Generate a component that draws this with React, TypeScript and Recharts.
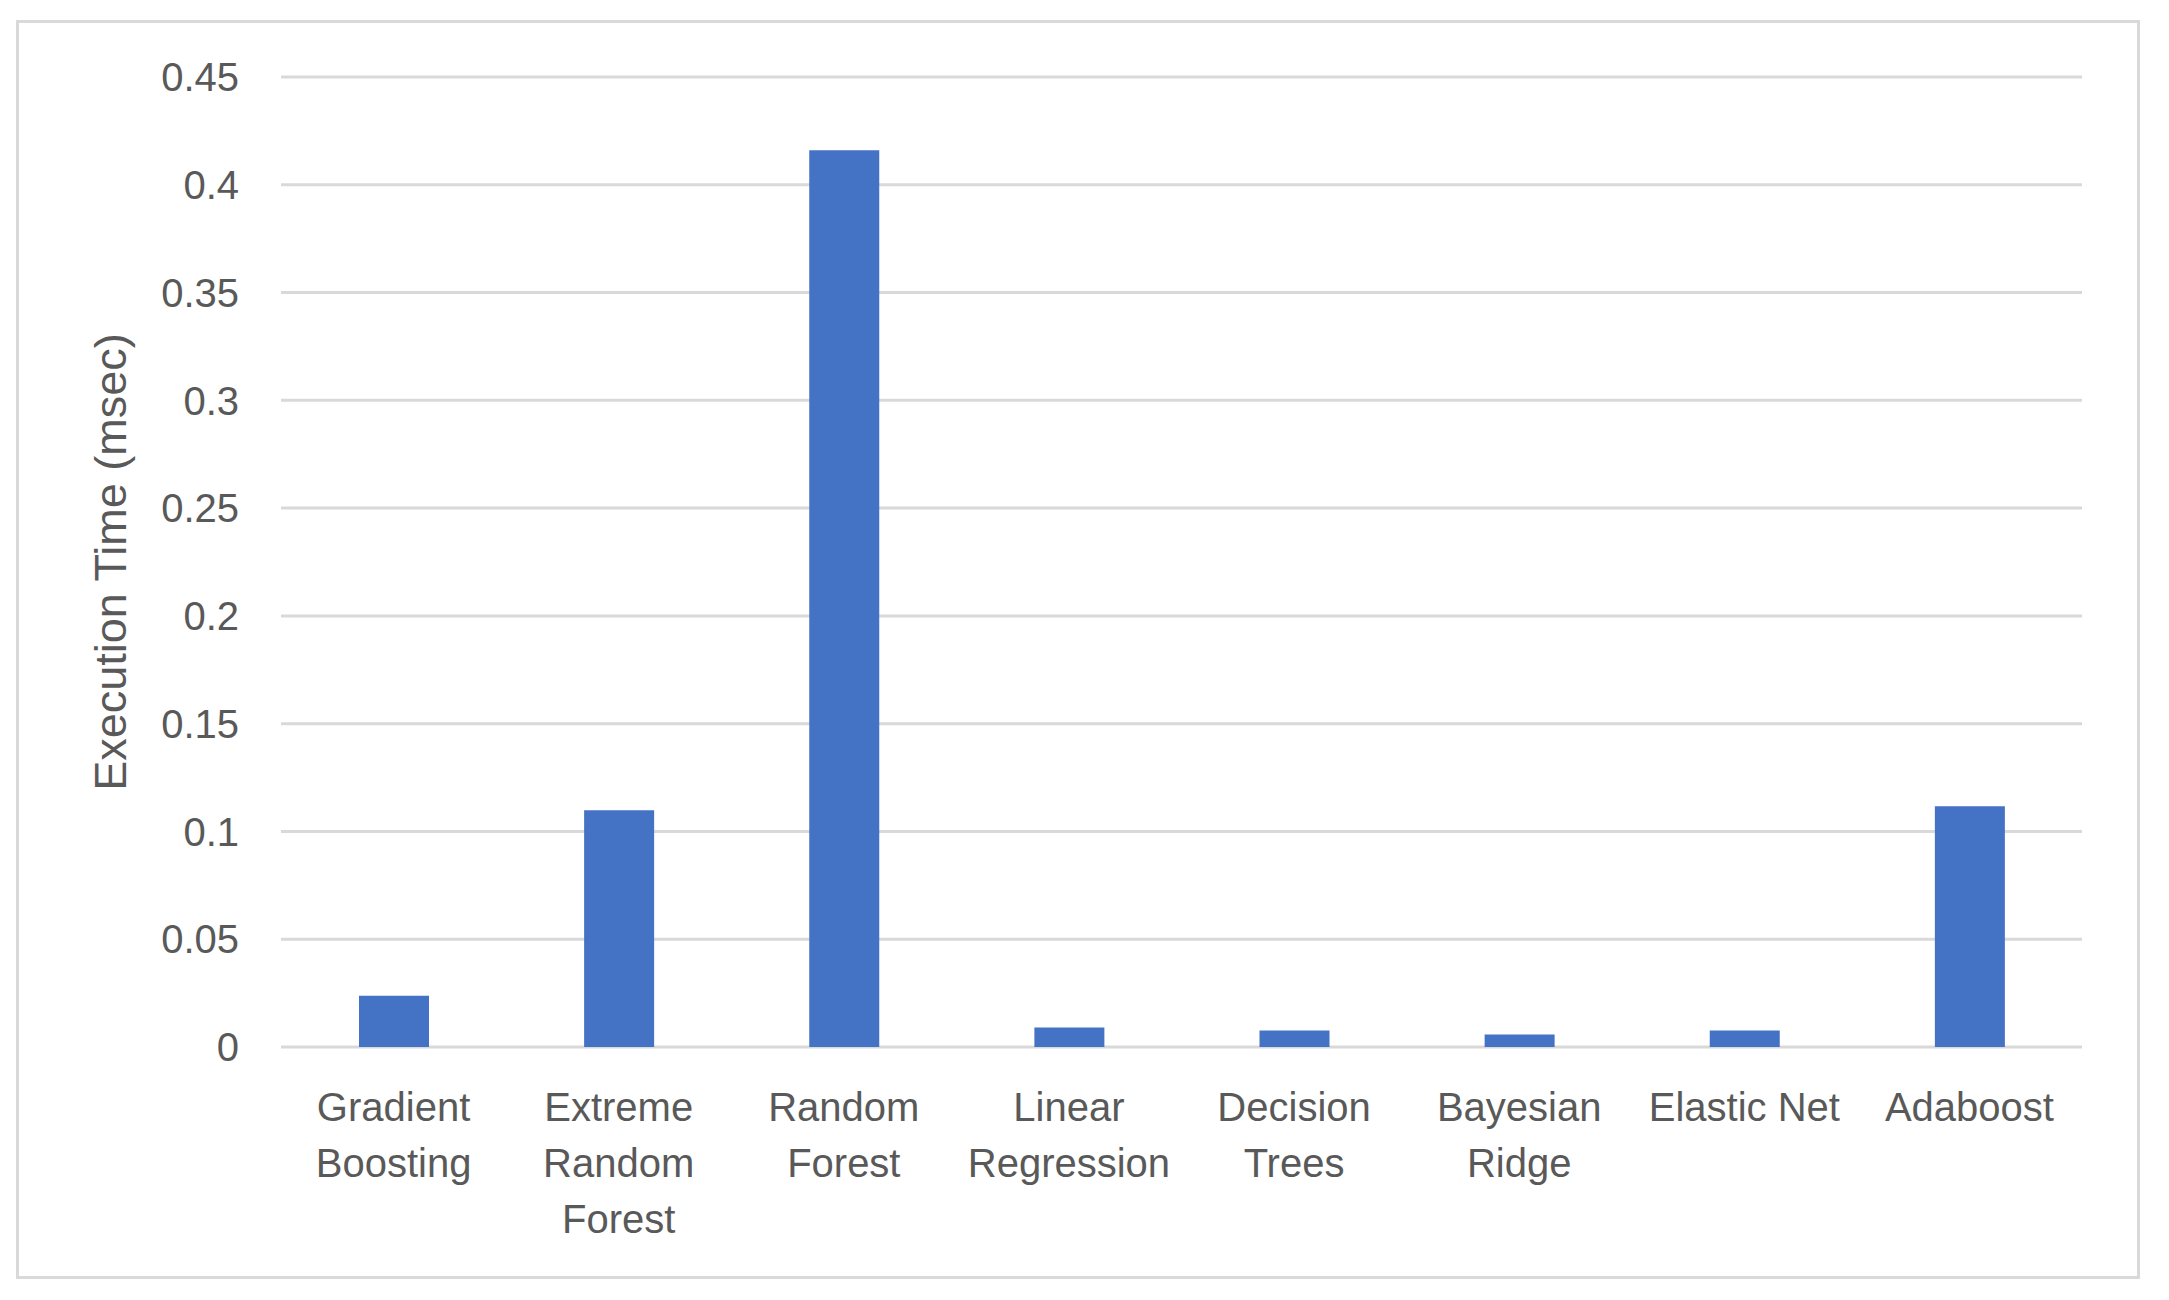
import { BarChart, Bar, XAxis, YAxis, CartesianGrid } from "recharts";

const categories = [
  "Gradient Boosting",
  "Extreme Random Forest",
  "Random Forest",
  "Linear Regression",
  "Decision Trees",
  "Bayesian Ridge",
  "Elastic Net",
  "Adaboost",
];

// how Excel wrapped each category label
const labelLines = [
  ["Gradient", "Boosting"],
  ["Extreme", "Random", "Forest"],
  ["Random", "Forest"],
  ["Linear", "Regression"],
  ["Decision", "Trees"],
  ["Bayesian", "Ridge"],
  ["Elastic Net"],
  ["Adaboost"],
];

const execTime = [0.0238, 0.1098, 0.416, 0.009, 0.0077, 0.0058, 0.0077, 0.1117];

const yTicks = [0, 0.05, 0.1, 0.15, 0.2, 0.25, 0.3, 0.35, 0.4, 0.45];

const FONT = '"Liberation Sans", Arial, sans-serif';
const GREY_TEXT = "#595959";
const GRID = "#d9d9d9";

const data = categories.map((name, i) => ({ name, value: execTime[i] }));

function CategoryTick(props: any) {
  const { x, y, payload } = props;
  const idx = categories.indexOf(payload.value);
  const lines = labelLines[idx] ?? [payload.value];
  return (
    <text x={x} y={y} textAnchor="middle" fill={GREY_TEXT} fontSize={40} fontFamily={FONT}>
      {lines.map((l, i) => (
        <tspan key={i} x={x} dy={i === 0 ? 74 : 56}>
          {l}
        </tspan>
      ))}
    </text>
  );
}

export default function App() {
  return (
    <div style={{ position: "absolute", left: 0, top: 0, width: 2169, height: 1300, background: "#fff" }}>
      {/* chart frame */}
      <div
        style={{
          position: "absolute",
          left: 16,
          top: 20,
          width: 2124,
          height: 1259,
          border: `3px solid ${GRID}`,
          boxSizing: "border-box",
        }}
      />
      <div style={{ position: "absolute", left: 0, top: 0 }}>
        <BarChart
          width={2169}
          height={1300}
          data={data}
          margin={{ top: 77, right: 87, bottom: 53, left: 181 }}
        >
          <CartesianGrid vertical={false} stroke={GRID} strokeWidth={3} />
          <XAxis
            dataKey="name"
            axisLine={false}
            tickLine={false}
            tickSize={0}
            tickMargin={0}
            height={200}
            interval={0}
            tick={<CategoryTick />}
          />
          <YAxis
            domain={[0, 0.45]}
            ticks={yTicks}
            width={100}
            axisLine={false}
            tickLine={false}
            tickSize={0}
            tickMargin={42}
            tick={{ fill: GREY_TEXT, fontSize: 40, fontFamily: FONT }}
            label={{
              value: "Execution Time (msec)",
              angle: -90,
              position: "center",
              dx: -121,
              style: { fill: GREY_TEXT, fontSize: 45, fontFamily: FONT, textAnchor: "middle" },
            }}
          />
          <Bar dataKey="value" fill="#4472C4" barSize={70} isAnimationActive={false} />
        </BarChart>
      </div>
    </div>
  );
}
